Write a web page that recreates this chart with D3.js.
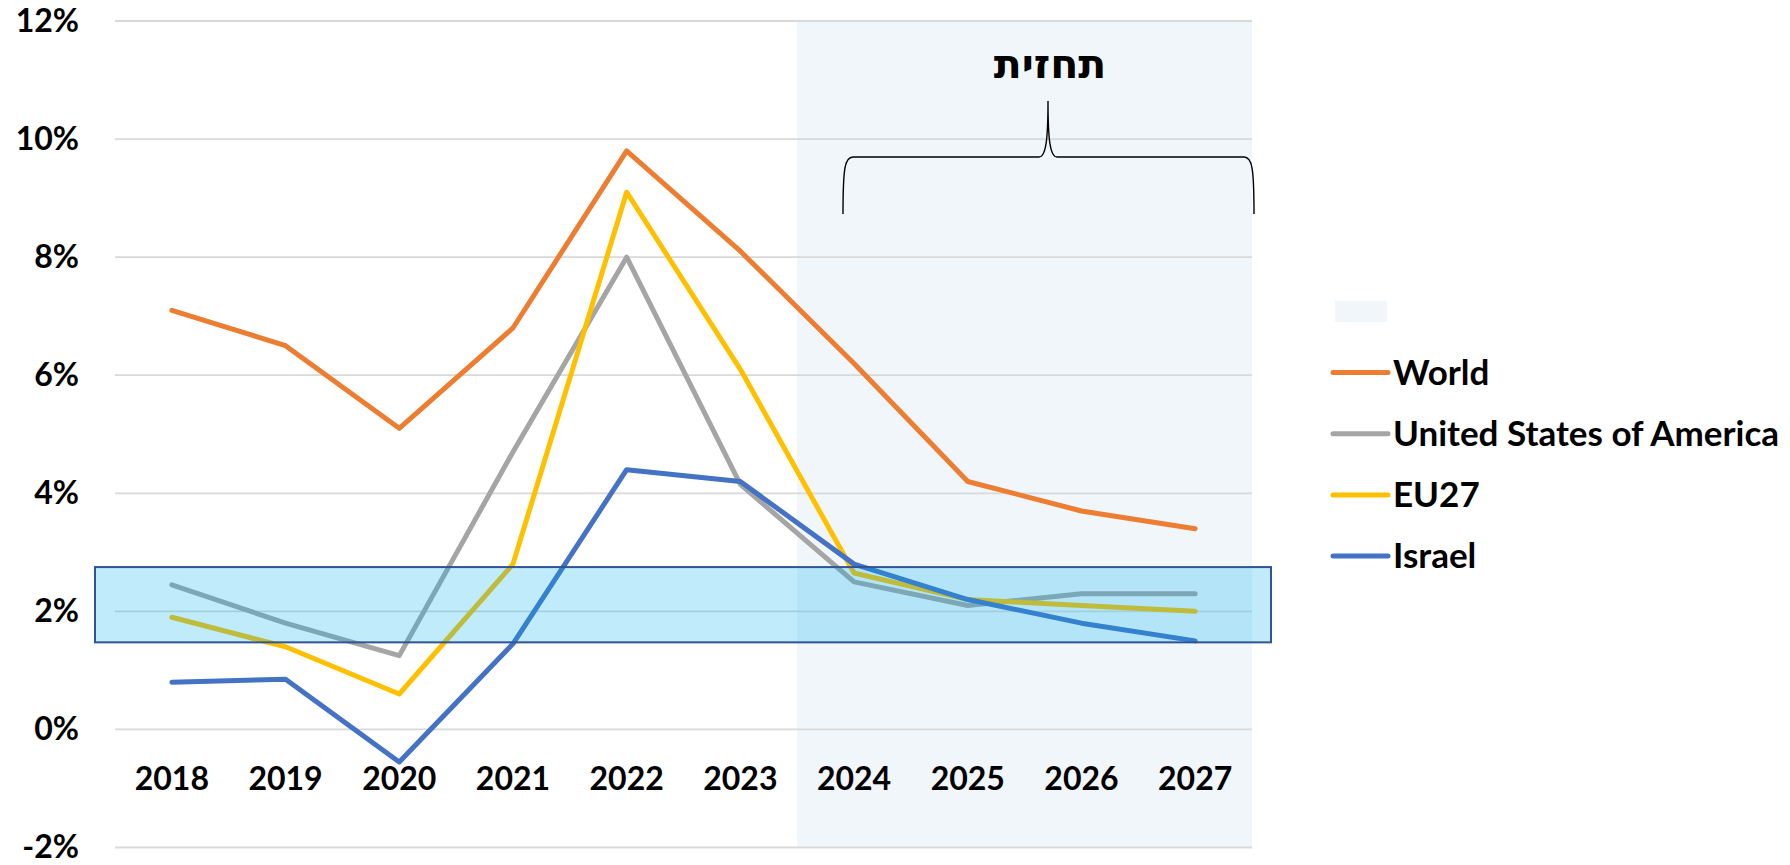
<!DOCTYPE html>
<html>
<head>
<meta charset="utf-8">
<script src="https://cdn.jsdelivr.net/npm/d3@7"></script>
<style>
  body { margin:0; background:#fff; }
  text { font-family: Lato, "Open Sans", sans-serif; font-weight:700; fill:#000; }
</style>
</head>
<body>
<svg id="chart" width="1790" height="865"></svg>
<script>
// data
const years = ["2018","2019","2020","2021","2022","2023","2024","2025","2026","2027"];
const world  = [7.1, 6.5, 5.1, 6.8, 9.8, 8.1, 6.2, 4.2, 3.7, 3.4];
const usa    = [2.45, 1.8, 1.25, 4.7, 8.0, 4.15, 2.5, 2.1, 2.3, 2.3];
const eu27   = [1.9, 1.4, 0.6, 2.8, 9.1, 6.1, 2.65, 2.2, 2.1, 2.0];
const israel = [0.8, 0.85, -0.55, 1.45, 4.4, 4.2, 2.8, 2.2, 1.8, 1.5];
const yTicks = [-2, 0, 2, 4, 6, 8, 10, 12];
const forecastFrom = "2024";
const forecastLabel = "תחזית";
const targetBand = [1.475, 2.75];

const series = [
  {name:"World", values:world, color:"#ED7D31"},
  {name:"United States of America", values:usa, color:"#A5A5A5"},
  {name:"EU27", values:eu27, color:"#FFC000"},
  {name:"Israel", values:israel, color:"#4472C4"}
];

const svg = d3.select("#chart");
const pL = 115, pR = 1252, pT = 21, pB = 847.5;

const x = d3.scaleBand().domain(years).range([pL, pR]);
const y = d3.scaleLinear().domain([-2, 12]).range([pB, pT]);
const cx = d => x(d) + x.bandwidth()/2;

// forecast shading
const fx = x(forecastFrom);
svg.append("rect")
  .attr("x", fx).attr("y", pT)
  .attr("width", pR - fx).attr("height", pB - pT)
  .attr("fill", "#F1F6FB");

// gridlines
svg.append("g").selectAll("line").data(yTicks).enter().append("line")
  .attr("x1", pL).attr("x2", pR)
  .attr("y1", d => y(d)).attr("y2", d => y(d))
  .attr("stroke", "#D9D9D9").attr("stroke-width", 1.8);

// y labels
const yAxis = svg.append("g").attr("transform", "translate(79,0)")
  .call(d3.axisLeft(y).tickValues(yTicks).tickSize(0).tickFormat(d => d + "%"));
yAxis.select(".domain").remove();
yAxis.selectAll("text").attr("x", 0).attr("dy", "0.32em")
  .style("font-family", "Lato, sans-serif").style("font-weight", 700).style("font-size", "32px").attr("fill", "#000");

// x labels
const xAxis = svg.append("g").attr("transform", "translate(0,790)")
  .call(d3.axisBottom(x).tickSize(0));
xAxis.select(".domain").remove();
xAxis.selectAll("text").attr("y", 0).attr("dy", 0)
  .style("font-family", "Lato, sans-serif").style("font-weight", 700).style("font-size", "32px").attr("fill", "#000");

// lines
const line = d3.line().x((d, i) => cx(years[i])).y(d => y(d));
svg.append("g").selectAll("path").data(series).enter().append("path")
  .attr("d", d => line(d.values))
  .attr("fill", "none")
  .attr("stroke", d => d.color)
  .attr("stroke-width", 5)
  .attr("stroke-linecap", "round")
  .attr("stroke-linejoin", "round");

// target band, on top and see-through
svg.append("rect")
  .attr("x", pL - 20).attr("y", y(targetBand[1]))
  .attr("width", pR - pL + 39).attr("height", y(targetBand[0]) - y(targetBand[1]))
  .attr("fill", "#00B0F0").attr("fill-opacity", 0.25)
  .attr("stroke", "#2F5597").attr("stroke-width", 2);

// brace over forecast years
const bx0 = 843, bx1 = 1254, bm = 1048, tipY = 101, armY = 157, endY = 214;
const brace = d3.path();
brace.moveTo(bx0, endY);
brace.bezierCurveTo(bx0, armY + 10, bx0 + 2, armY, bx0 + 10, armY);
brace.lineTo(bm - 9, armY);
brace.bezierCurveTo(bm - 2, armY, bm, armY - 18, bm, tipY);
brace.bezierCurveTo(bm, armY - 18, bm + 2, armY, bm + 9, armY);
brace.lineTo(bx1 - 10, armY);
brace.bezierCurveTo(bx1 - 2, armY, bx1, armY + 10, bx1, endY);
svg.append("path").attr("d", brace.toString())
  .attr("fill", "none").attr("stroke", "#000").attr("stroke-width", 1.4);

svg.append("text")
  .attr("x", 1050).attr("y", 78)
  .attr("text-anchor", "middle")
  .style("font-family", "'DejaVu Sans', sans-serif").style("font-size", "41px")
  .text(forecastLabel);

// legend
const lg = svg.append("g");
lg.append("rect").attr("x", 1335).attr("y", 301).attr("width", 52).attr("height", 21)
  .attr("fill", "#F1F6FB");
const item = lg.selectAll("g.item").data(series).enter().append("g")
  .attr("class", "item")
  .attr("transform", (d, i) => "translate(1333," + (372.5 + i*61.2) + ")");
item.append("line").attr("x1", 0).attr("x2", 55)
  .attr("stroke", d => d.color).attr("stroke-width", 5).attr("stroke-linecap", "round");
item.append("text").attr("x", 60).attr("y", 12)
  .style("font-size", "35px")
  .text(d => d.name);
</script>
</body>
</html>
